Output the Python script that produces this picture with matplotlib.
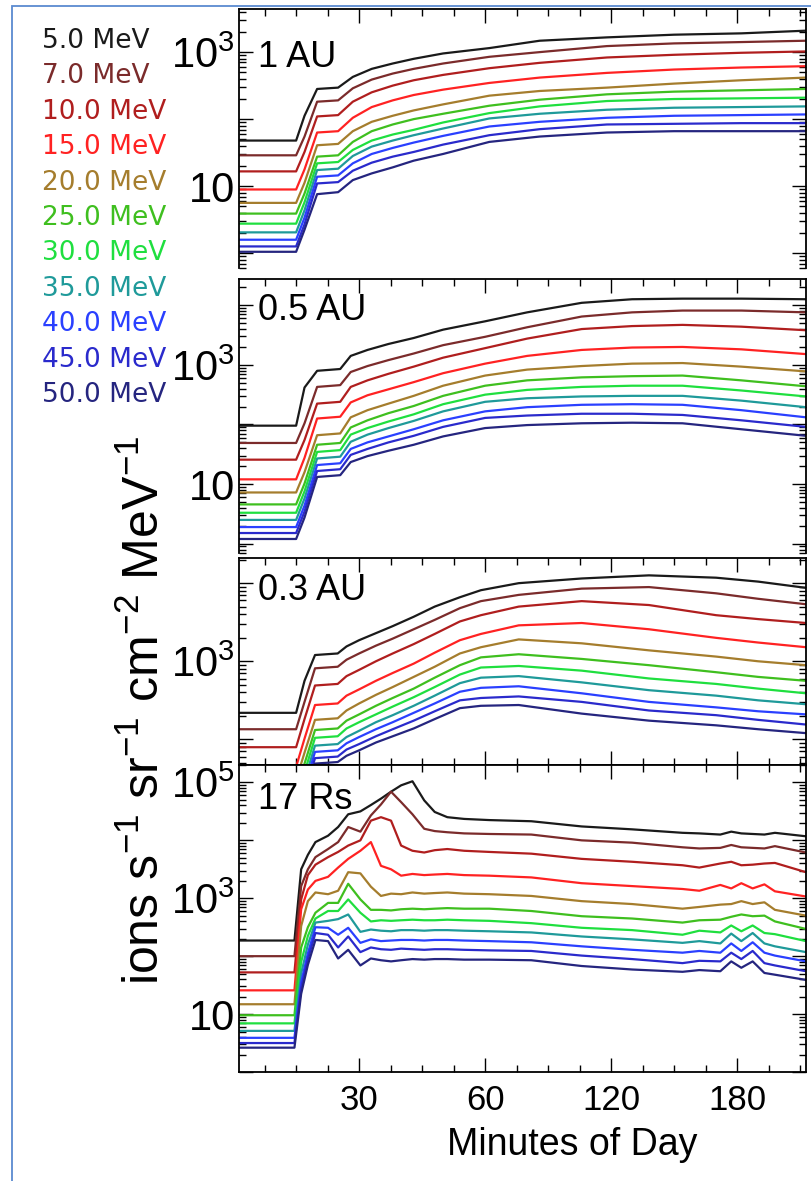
import matplotlib
matplotlib.use("Agg")
import matplotlib.pyplot as plt
import matplotlib.ticker as mticker
from matplotlib.patches import Rectangle
import numpy as np

# energy channels and their colours
energies = ["5.0 MeV", "7.0 MeV", "10.0 MeV", "15.0 MeV", "20.0 MeV", "25.0 MeV",
            "30.0 MeV", "35.0 MeV", "40.0 MeV", "45.0 MeV", "50.0 MeV"]
line_colors = ["#1a1a1a", "#7b2b2b", "#b01e1e", "#ff2222", "#a57d2d", "#3fbf1f",
               "#1fdf3f", "#1f9a9a", "#2a40ff", "#2a2acc", "#25257f"]

# x axis: evenly spaced major ticks, labelled as in the original
x_major = [30, 60, 90, 120]
x_major_labels = ["30", "60", "120", "180"]

# ---- 1 AU (log10 flux, one row per energy) ----
t_1au = [1.4, 15, 17, 20, 25, 28.5, 33, 38, 43, 50, 61, 73, 89, 105, 121, 136.4]
log_flux_1au = [
    [1.68, 1.68, 2.05, 2.45, 2.47, 2.63, 2.75, 2.83, 2.90, 2.98, 3.06, 3.17, 3.22, 3.26, 3.28, 3.32],
    [1.46, 1.46, 1.74, 2.26, 2.28, 2.46, 2.59, 2.68, 2.75, 2.83, 2.93, 3.00, 3.09, 3.13, 3.15, 3.17],
    [1.22, 1.22, 1.51, 2.04, 2.06, 2.26, 2.40, 2.50, 2.58, 2.66, 2.76, 2.84, 2.92, 2.96, 2.99, 3.01],
    [0.95, 0.95, 1.25, 1.80, 1.82, 2.02, 2.18, 2.28, 2.36, 2.44, 2.54, 2.62, 2.69, 2.74, 2.77, 2.79],
    [0.75, 0.75, 1.05, 1.61, 1.63, 1.82, 1.96, 2.05, 2.13, 2.22, 2.35, 2.42, 2.47, 2.53, 2.58, 2.62],
    [0.59, 0.59, 0.89, 1.44, 1.46, 1.66, 1.82, 1.92, 2.00, 2.08, 2.20, 2.29, 2.37, 2.41, 2.43, 2.45],
    [0.44, 0.44, 0.76, 1.34, 1.36, 1.54, 1.68, 1.77, 1.84, 1.95, 2.09, 2.19, 2.27, 2.30, 2.31, 2.32],
    [0.31, 0.31, 0.64, 1.24, 1.26, 1.45, 1.59, 1.68, 1.76, 1.86, 2.01, 2.08, 2.14, 2.17, 2.18, 2.19],
    [0.20, 0.20, 0.53, 1.14, 1.16, 1.34, 1.48, 1.57, 1.65, 1.75, 1.89, 1.96, 2.02, 2.05, 2.06, 2.07],
    [0.10, 0.10, 0.43, 1.04, 1.06, 1.23, 1.35, 1.44, 1.51, 1.62, 1.76, 1.85, 1.92, 1.93, 1.94, 1.94],
    [0.02, 0.02, 0.35, 0.88, 0.91, 1.09, 1.19, 1.28, 1.38, 1.48, 1.66, 1.74, 1.80, 1.82, 1.82, 1.82],
]

# ---- 0.5 AU ----
t_05au = [1.4, 15, 17, 20, 25.5, 28, 32, 37, 43, 50, 60, 70, 83, 95, 107, 121, 136.4]
log_flux_05au = [
    [1.98, 1.98, 2.62, 2.90, 2.93, 3.15, 3.25, 3.35, 3.45, 3.59, 3.73, 3.88, 4.04, 4.10, 4.11, 4.11, 4.10],
    [1.69, 1.69, 2.02, 2.63, 2.66, 2.88, 2.98, 3.08, 3.19, 3.33, 3.47, 3.63, 3.81, 3.88, 3.91, 3.91, 3.88],
    [1.41, 1.41, 1.74, 2.35, 2.38, 2.63, 2.74, 2.85, 2.97, 3.12, 3.28, 3.44, 3.60, 3.65, 3.67, 3.64, 3.58],
    [1.08, 1.08, 1.44, 2.10, 2.13, 2.37, 2.49, 2.59, 2.71, 2.86, 3.02, 3.15, 3.25, 3.29, 3.30, 3.26, 3.18],
    [0.86, 0.86, 1.20, 1.82, 1.85, 2.12, 2.24, 2.35, 2.48, 2.65, 2.82, 2.92, 2.98, 3.02, 3.03, 2.97, 2.89],
    [0.66, 0.66, 1.01, 1.66, 1.69, 1.95, 2.07, 2.19, 2.31, 2.48, 2.65, 2.74, 2.79, 2.81, 2.82, 2.74, 2.64],
    [0.52, 0.52, 0.88, 1.54, 1.57, 1.83, 1.94, 2.05, 2.17, 2.34, 2.50, 2.58, 2.63, 2.65, 2.65, 2.57, 2.47],
    [0.40, 0.40, 0.76, 1.43, 1.46, 1.71, 1.83, 1.94, 2.06, 2.22, 2.38, 2.44, 2.47, 2.48, 2.48, 2.40, 2.29],
    [0.28, 0.28, 0.64, 1.32, 1.35, 1.59, 1.70, 1.80, 1.92, 2.07, 2.22, 2.29, 2.33, 2.34, 2.33, 2.24, 2.12],
    [0.18, 0.18, 0.54, 1.22, 1.25, 1.49, 1.59, 1.70, 1.81, 1.96, 2.11, 2.15, 2.18, 2.18, 2.16, 2.07, 1.96],
    [0.08, 0.08, 0.44, 1.12, 1.15, 1.37, 1.47, 1.56, 1.66, 1.80, 1.94, 1.99, 2.02, 2.03, 2.02, 1.92, 1.81],
]

# ---- 0.3 AU ----
t_03au = [1.4, 15, 17, 19.5, 24.9, 27, 30, 34, 38, 43, 48, 54, 59, 68, 83, 99, 115, 125, 136.4]
log_flux_03au = [
    [2.34, 2.34, 2.75, 3.08, 3.10, 3.19, 3.27, 3.36, 3.45, 3.57, 3.70, 3.82, 3.91, 4.00, 4.06, 4.10, 4.07, 4.02, 3.94],
    [2.13, 2.13, 2.48, 2.91, 2.93, 3.02, 3.10, 3.20, 3.29, 3.41, 3.53, 3.68, 3.77, 3.85, 3.93, 3.95, 3.87, 3.80, 3.73],
    [1.90, 1.90, 2.26, 2.69, 2.71, 2.81, 2.89, 3.00, 3.10, 3.22, 3.35, 3.51, 3.59, 3.70, 3.77, 3.72, 3.59, 3.54, 3.49],
    [1.65, 1.65, 2.01, 2.44, 2.46, 2.56, 2.64, 2.75, 2.85, 2.97, 3.11, 3.27, 3.35, 3.46, 3.49, 3.41, 3.30, 3.24, 3.18],
    [1.48, 1.48, 1.83, 2.25, 2.27, 2.37, 2.46, 2.57, 2.67, 2.80, 2.93, 3.10, 3.18, 3.28, 3.23, 3.14, 3.06, 3.00, 2.95],
    [1.33, 1.33, 1.69, 2.12, 2.14, 2.24, 2.32, 2.43, 2.53, 2.65, 2.79, 2.95, 3.05, 3.09, 3.03, 2.95, 2.86, 2.80, 2.75],
    [1.22, 1.22, 1.58, 2.02, 2.04, 2.14, 2.22, 2.32, 2.42, 2.54, 2.67, 2.83, 2.92, 2.94, 2.88, 2.78, 2.71, 2.65, 2.59],
    [1.12, 1.12, 1.48, 1.92, 1.94, 2.03, 2.11, 2.22, 2.31, 2.43, 2.56, 2.72, 2.79, 2.81, 2.73, 2.63, 2.56, 2.50, 2.45],
    [1.03, 1.03, 1.39, 1.84, 1.86, 1.95, 2.03, 2.13, 2.22, 2.34, 2.46, 2.61, 2.66, 2.68, 2.59, 2.48, 2.41, 2.36, 2.32],
    [0.95, 0.95, 1.31, 1.76, 1.78, 1.87, 1.94, 2.04, 2.13, 2.24, 2.36, 2.50, 2.53, 2.55, 2.48, 2.37, 2.31, 2.25, 2.19],
    [0.88, 0.88, 1.24, 1.69, 1.71, 1.79, 1.86, 1.96, 2.04, 2.14, 2.26, 2.40, 2.43, 2.44, 2.33, 2.24, 2.18, 2.13, 2.08],
]

# ---- 17 Rs ----
t_17rs = [1.4, 14.6, 16.2, 17.8, 19.6, 22.6, 25, 27.4, 30.3, 32.8, 35.2, 37.6, 40, 42.7, 45.5, 48,
          51, 55, 61, 71, 83, 95, 107, 111, 116, 118.6, 121, 123.7, 126.5, 129, 136.4]
log_flux_17rs = [
    [2.27, 2.27, 3.50, 3.75, 3.97, 4.08, 4.23, 4.45, 4.50, 4.61, 4.72, 4.84, 4.95, 5.02, 4.69, 4.49,
     4.40, 4.37, 4.35, 4.33, 4.24, 4.19, 4.13, 4.12, 4.10, 4.15, 4.12, 4.11, 4.10, 4.13, 4.07],
    [2.00, 2.00, 3.21, 3.50, 3.71, 3.85, 3.97, 4.23, 4.15, 4.43, 4.62, 4.84, 4.66, 4.45, 4.20, 4.16,
     4.14, 4.12, 4.11, 4.10, 4.00, 3.96, 3.88, 3.86, 3.87, 3.92, 3.88, 3.87, 3.86, 3.90, 3.79],
    [1.72, 1.72, 2.98, 3.40, 3.58, 3.71, 3.80, 3.91, 4.00, 4.34, 4.40, 4.34, 3.91, 3.82, 3.79, 3.83,
     3.85, 3.82, 3.80, 3.77, 3.68, 3.63, 3.57, 3.53, 3.60, 3.63, 3.57, 3.58, 3.60, 3.61, 3.45],
    [1.41, 1.41, 2.81, 3.15, 3.30, 3.37, 3.53, 3.68, 3.82, 3.97, 3.56, 3.50, 3.39, 3.42, 3.40, 3.41,
     3.42, 3.40, 3.39, 3.36, 3.26, 3.21, 3.16, 3.13, 3.23, 3.17, 3.26, 3.17, 3.24, 3.12, 3.03],
    [1.17, 1.17, 2.52, 2.95, 3.10, 3.07, 3.13, 3.45, 3.43, 3.20, 3.04, 3.08, 3.07, 3.10, 3.08, 3.09,
     3.10, 3.08, 3.07, 3.04, 2.95, 2.90, 2.82, 2.85, 2.89, 2.90, 2.95, 2.90, 2.93, 2.80, 2.70],
    [0.98, 0.98, 2.15, 2.50, 2.75, 2.92, 2.92, 3.25, 2.98, 2.80, 2.80, 2.79, 2.81, 2.82, 2.81, 2.82,
     2.83, 2.82, 2.82, 2.78, 2.69, 2.65, 2.58, 2.62, 2.63, 2.68, 2.72, 2.69, 2.70, 2.60, 2.47],
    [0.84, 0.84, 1.90, 2.35, 2.65, 2.78, 2.78, 2.98, 2.75, 2.60, 2.62, 2.61, 2.62, 2.63, 2.62, 2.62,
     2.63, 2.62, 2.61, 2.57, 2.49, 2.45, 2.37, 2.44, 2.41, 2.53, 2.43, 2.53, 2.40, 2.38, 2.26],
    [0.71, 0.71, 1.70, 2.20, 2.58, 2.61, 2.64, 2.72, 2.42, 2.46, 2.44, 2.43, 2.45, 2.45, 2.44, 2.45,
     2.45, 2.44, 2.43, 2.41, 2.34, 2.29, 2.23, 2.26, 2.22, 2.39, 2.26, 2.40, 2.22, 2.17, 2.07],
    [0.59, 0.59, 1.55, 2.05, 2.50, 2.49, 2.37, 2.49, 2.23, 2.29, 2.26, 2.27, 2.28, 2.28, 2.27, 2.28,
     2.28, 2.27, 2.26, 2.24, 2.17, 2.11, 2.06, 2.09, 2.06, 2.22, 2.09, 2.24, 2.06, 2.01, 1.91],
    [0.50, 0.50, 1.45, 1.95, 2.40, 2.37, 2.15, 2.34, 2.07, 2.15, 2.12, 2.11, 2.13, 2.12, 2.11, 2.12,
     2.12, 2.11, 2.10, 2.09, 2.01, 1.95, 1.88, 1.92, 1.91, 2.06, 1.95, 2.09, 1.88, 1.84, 1.74],
    [0.42, 0.42, 1.35, 1.85, 2.28, 2.26, 1.96, 2.11, 1.84, 1.96, 1.93, 1.91, 1.93, 1.95, 1.94, 1.95,
     1.95, 1.94, 1.94, 1.93, 1.83, 1.77, 1.73, 1.76, 1.74, 1.91, 1.80, 1.91, 1.71, 1.68, 1.59],
]

plt.rcParams["font.family"] = ["Liberation Sans", "DejaVu Sans"]
plt.rcParams["mathtext.fontset"] = "custom"
plt.rcParams["mathtext.rm"] = "Liberation Sans"
plt.rcParams["mathtext.it"] = "Liberation Sans"
plt.rcParams["mathtext.default"] = "regular"

W, H = 812, 1181
fig = plt.figure(figsize=(W / 100, H / 100), dpi=100)


def add_panel(left, top, right, bottom):
    return fig.add_axes([left / W, 1 - bottom / H, (right - left) / W, (bottom - top) / H])


def ylabel_fmt(v, pos):
    k = int(round(np.log10(v)))
    if k == 1:
        return "10"
    if k in (3, 5):
        return f"$10^{k}$"
    return ""


# (name, x, log flux, box in pixels, y-limits, show bottom spine)
panels = [
    ("1 AU", t_1au, log_flux_1au, (239, 9, 806, 268), (0.6, 4400), False),
    ("0.5 AU", t_05au, log_flux_05au, (239, 279, 806, 553), (0.7, 27500), False),
    ("0.3 AU", t_03au, log_flux_03au, (239, 558, 806, 765), (47, 21000), True),
    ("17 Rs", t_17rs, log_flux_17rs, (239, 765, 806, 1072), (1.0, 2.0e5), True),
]

for i, (name, t, rows, box, ylim, bottom_on) in enumerate(panels):
    ax = add_panel(*box)
    for row, c in zip(rows, line_colors):
        ax.plot(t, 10 ** np.array(row), color=c, lw=1.6)
    ax.set_yscale("log")
    ax.set_ylim(*ylim)
    ax.set_xlim(1.4, 136.4)

    ax.yaxis.set_major_locator(mticker.FixedLocator([10.0 ** k for k in range(-1, 7)]))
    ax.yaxis.set_major_formatter(mticker.FuncFormatter(ylabel_fmt))
    ax.yaxis.set_minor_locator(mticker.LogLocator(base=10, subs=np.arange(2, 10), numticks=30))
    ax.yaxis.set_minor_formatter(mticker.NullFormatter())
    ax.xaxis.set_major_locator(mticker.FixedLocator(x_major))
    ax.xaxis.set_minor_locator(mticker.MultipleLocator(7.5))

    last = i == len(panels) - 1
    ax.tick_params(which="both", direction="in", top=True, right=True,
                   bottom=bottom_on, labelbottom=last, width=1.0)
    ax.tick_params(which="major", length=10)
    ax.tick_params(which="minor", length=5)
    ax.tick_params(axis="y", labelsize=30, pad=3)
    ax.tick_params(axis="x", labelsize=25, pad=9)
    if last:
        ax.set_xticklabels(x_major_labels)
    for s in ax.spines.values():
        s.set_linewidth(1.3)
    if not bottom_on:
        ax.spines["bottom"].set_visible(False)

    ax.text(0.034, 1 - {0: 58, 1: 41, 2: 42, 3: 44}[i] / (box[3] - box[1]), name,
            transform=ax.transAxes, fontsize=26, va="baseline", ha="left")

# energy legend on the left
for j, (lab, c) in enumerate(zip(energies, line_colors)):
    fig.text(42 / W, 1 - (41 + j * 35.4) / H, lab, color=c, fontsize=19,
             family=["DejaVu Sans"], va="center", ha="left")

fig.text(169 / W, 1 - 710 / H, r"ions s$^{-1}$ sr$^{-1}$ cm$^{-2}$ MeV$^{-1}$",
         rotation=90, fontsize=36, ha="right", va="center")
fig.text(572 / W, 1 - 1145 / H, "Minutes of Day", fontsize=27, ha="center", va="center")

fig.add_artist(Rectangle((12 / W, -0.05), 1.0, 1 - 6 / H + 0.05, transform=fig.transFigure,
                         fill=False, edgecolor="#5a8ad0", lw=1.3))

fig.savefig("out.png", dpi=100)
